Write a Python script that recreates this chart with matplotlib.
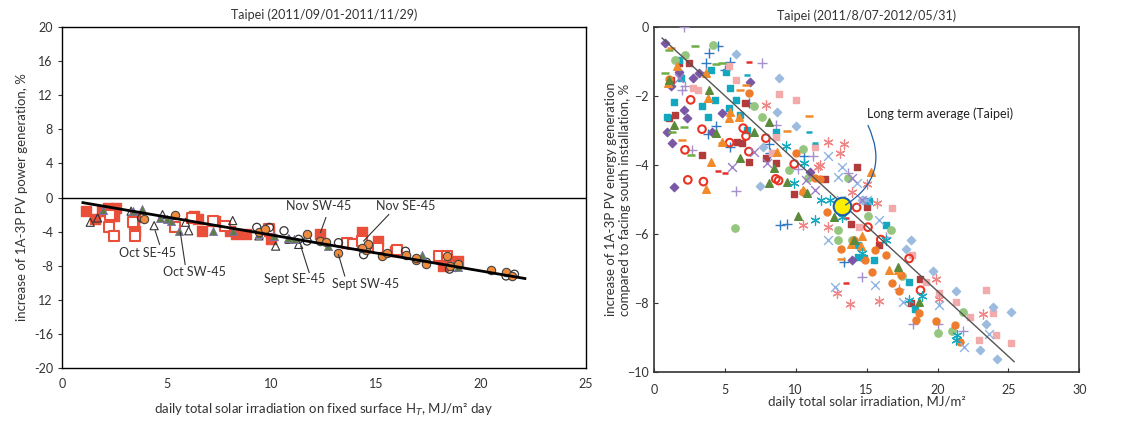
import numpy as np
import matplotlib.pyplot as plt

plt.rcParams['font.family'] = ['Lato', 'DejaVu Sans']
plt.rcParams['font.size'] = 8

# ---------------- left panel data (Taipei 2011/09/01-2011/11/29)
nov_sw_x = [1.17, 2.57, 2.5, 1.6, 3.44, 3.5, 3.5, 6.3, 6.5, 6.7, 7.3, 8.0, 8.3, 8.8, 9.9, 10.0, 12.3, 13.6, 14.3, 15.1, 15.9, 18.2, 18.9, 18.1, 1.9, 2.2]
nov_sw_y = [-1.57, -1.18, -2.2, -2.5, -3.1, -3.9, -2.3, -2.2, -2.5, -3.9, -2.7, -3.9, -4.3, -4.3, -3.9, -4.9, -4.3, -5.3, -4.1, -5.1, -6.3, -8.0, -7.5, -6.9, -1.6, -1.2]
nov_se_x = [2.3, 2.25, 2.5, 3.4, 3.5, 5.4, 6.2, 7.8, 9.9, 13.6, 13.9, 14.3, 15.1, 16.0, 18.0, 18.4, 7.2]
nov_se_y = [-2.0, -3.5, -4.5, -2.9, -4.5, -3.5, -2.4, -3.3, -3.7, -5.3, -5.5, -5.1, -5.9, -6.1, -6.9, -6.9, -2.7]
sept_sw_x = [3.9, 5.4, 9.4, 11.7, 12.3, 12.6, 13.2, 14.5, 14.6, 15.3, 15.5, 16.4, 16.9, 17.4, 18.4, 18.5, 18.9, 20.5, 21.2, 21.5, 9.7, 14.3, 16.9]
sept_sw_y = [-2.5, -2.0, -4.1, -4.3, -5.1, -5.2, -6.5, -6.1, -5.5, -6.9, -6.5, -6.7, -7.3, -7.8, -6.9, -8.0, -7.8, -8.5, -8.7, -9.2, -3.7, -5.9, -7.1]
sept_se_x = [9.3, 9.9, 10.6, 11.7, 13.2, 14.4, 14.6, 16.4, 17.4, 18.5, 18.8, 21.2, 21.6, 11.3, 3.8]
sept_se_y = [-3.5, -3.5, -3.9, -5.1, -5.3, -6.7, -5.7, -6.3, -7.6, -8.4, -8.2, -9.2, -9.0, -4.9, -2.4]
oct_sw_x = [1.95, 3.8, 4.7, 5.0, 5.6, 7.2, 8.15, 9.4, 10.8, 12.7, 17.2, 18.9, 3.4, 10.1, 11.1, 5.2]
oct_sw_y = [-1.5, -1.4, -2.4, -2.5, -3.9, -3.9, -3.9, -4.3, -4.7, -5.7, -6.7, -8.2, -1.6, -4.5, -4.9, -2.7]
oct_se_x = [1.35, 3.3, 4.4, 4.8, 6.05, 8.15, 10.2, 10.85, 11.3, 5.9, 9.4, 1.7]
oct_se_y = [-2.9, -1.6, -3.3, -2.0, -3.9, -2.7, -5.7, -4.9, -5.5, -2.9, -4.5, -2.4]
fit_left_x = [1.0, 22.1]
fit_left_y = [-0.6, -9.5]
left_yticks = [-20, -16, -12, -8, -4, 0, 4, 8, 12, 16, 20]
left_yticklabels = ['-20', '-16', '12', '-8', '-4', '0', '4', '8', '12', '16', '20']

# ---------------- right panel data (Taipei 2011/8/07-2012/05/31)
right_series = {
    'plus_blue': ([3.9, 4.5, 5.4, 5.0, 3.65, 3.8, 4.4, 5.4, 8.9, 9.4, 13.4, 10.6, 6.7, 8.1, 8.2],
                  [-0.75, -0.54, -1.0, -1.24, -1.05, -3.1, -2.87, -3.47, -5.74, -5.7, -6.8, -3.75, -2.2, -3.4, -3.65]),
    'plus_purple': ([2.1, 7.6, 3.65, 2.2, 2.7, 5.8, 8.6, 10.2, 11.2, 13.7, 18.3, 20.0, 21.8, 14.7, 17.3, 16.4, 2.0],
                    [0.0, -1.05, -1.3, -1.72, -3.56, -4.74, -2.84, -4.12, -3.75, -4.24, -8.6, -8.6, -8.8, -7.24, -7.6, -6.1, -1.82]),
    'sq_darkred': ([1.06, 1.5, 1.77, 3.4, 6.4, 6.2, 6.7, 7.9, 8.6, 9.9, 12.1, 14.3, 15.0, 13.9, 15.9, 18.8, 18.1, 1.2, 2.5, 5.9],
                   [-2.64, -2.55, -1.05, -3.7, -2.2, -3.37, -3.92, -3.8, -3.95, -4.84, -4.41, -4.05, -5.23, -5.7, -6.32, -7.3, -8.0, -1.53, -1.05, -3.32]),
    'sq_teal': ([0.94, 1.4, 1.9, 3.4, 3.8, 4.3, 5.35, 5.8, 6.1, 6.6, 8.6, 5.3, 15.2, 16.4, 14.4, 14.4, 14.8, 15.5, 18.0, 18.4, 5.1, 4.0, 1.77],
                [-2.6, -2.16, -1.48, -2.3, -2.6, -2.1, -1.77, -2.1, -2.55, -2.98, -3.03, -2.35, -5.04, -5.74, -6.32, -6.66, -6.7, -6.76, -7.39, -8.16, -1.29, -1.24, -0.95]),
    'sq_pink': ([5.8, 8.8, 10.0, 2.8, 3.1, 5.3, 8.6, 8.3, 11.4, 16.8, 14.5, 18.2, 19.2, 20.1, 21.3, 23.4, 23.9, 22.9, 24.1, 25.2, 22.3],
                [-1.53, -1.95, -2.11, -1.77, -1.82, -1.12, -3.18, -3.66, -3.47, -5.26, -5.8, -6.6, -7.39, -7.72, -7.97, -7.63, -8.3, -9.06, -8.94, -9.16, -8.4]),
    'ci_green': ([4.2, 1.5, 2.2, 7.1, 7.6, 10.5, 9.5, 10.9, 13.7, 5.7, 13.0, 13.0, 14.0, 15.1, 16.7, 17.5, 20.0, 21.0, 21.8],
                 [-0.51, -0.95, -0.8, -2.28, -2.6, -3.53, -4.14, -4.39, -4.37, -5.83, -5.87, -6.16, -6.16, -5.48, -5.87, -7.22, -8.86, -8.8, -8.26]),
    'ci_orange': ([10.0, 11.4, 11.7, 12.2, 13.2, 15.4, 15.6, 16.4, 17.4, 16.8, 17.3, 18.5, 18.7, 19.9, 21.2, 21.6, 14.9, 10.5, 6.7, 1.06, 14.1],
                  [-3.66, -4.39, -4.4, -5.35, -6.42, -7.1, -6.45, -6.61, -7.19, -7.43, -7.66, -8.5, -8.3, -8.53, -8.64, -9.13, -6.74, -4.77, -1.92, -1.51, -6.18]),
    'ci_red_open': ([2.2, 2.4, 2.6, 3.4, 3.5, 5.35, 6.3, 6.5, 6.7, 7.9, 8.6, 8.8, 9.9, 14.3, 15.1, 16.0, 18.0, 18.8],
                    [-3.56, -4.43, -2.11, -2.96, -4.48, -3.35, -2.93, -3.16, -3.61, -3.22, -4.4, -4.45, -3.97, -5.23, -5.8, -6.16, -6.71, -7.63]),
    'di_purple': ([0.94, 1.3, 1.4, 2.35, 2.1, 0.82, 1.77, 2.8, 4.1, 4.8, 11.0, 14.0, 6.8, 1.2, 3.2],
                  [-3.03, -3.37, -4.63, -2.64, -2.4, -0.47, -1.29, -1.48, -3.03, -2.5, -4.19, -6.74, -1.58, -1.72, -1.34]),
    'di_lightblue': ([5.8, 8.8, 8.7, 10.0, 7.5, 14.7, 18.1, 19.7, 21.3, 23.9, 23.4, 23.0, 24.2, 25.2, 17.8, 7.7],
                     [-0.78, -1.48, -2.45, -2.86, -4.6, -5.01, -6.16, -7.07, -7.65, -8.11, -8.6, -9.37, -9.61, -8.26, -6.42, -3.47]),
    'tr_orange': ([1.0, 1.65, 3.8, 4.0, 3.7, 4.8, 5.3, 5.4, 6.0, 8.7, 10.5, 15.3, 13.9, 14.6, 16.6, 17.2, 14.7, 3.65],
                  [-1.63, -1.14, -2.06, -3.9, -4.7, -3.32, -2.64, -2.45, -2.6, -3.61, -4.72, -4.19, -6.29, -6.35, -7.03, -7.03, -6.06, -1.34]),
    'tr_green': ([1.4, 1.06, 3.9, 4.4, 7.1, 8.1, 6.05, 8.1, 8.5, 9.4, 10.2, 10.8, 12.7, 14.1, 17.2, 18.7],
                 [-2.84, -1.53, -1.82, -3.08, -3.03, -2.74, -3.8, -4.51, -4.1, -4.48, -5.48, -4.82, -5.5, -6.16, -6.95, -7.97]),
    'dash_green': ([1.06, 2.9, 0.82, 1.3, 2.1, 2.6, 4.4, 4.8],
                   [-0.66, -0.56, -1.34, -3.03, -2.9, -3.7, -1.06, -1.05]),
    'dash_orange': ([1.2, 2.0, 4.8, 6.5, 6.1, 10.95, 9.4, 13.2],
                    [-0.61, -3.27, -3.35, -1.67, -1.82, -2.57, -3.0, -6.71]),
    'dash_red': ([6.7, 4.5, 5.0, 13.55, 13.55],
                 [-1.0, -4.16, -4.22, -7.42, -5.55]),
    'dash_teal': ([6.6, 10.95, 11.4, 8.6],
                  [-1.38, -3.03, -3.37, -3.03]),
    'ast_pink': ([7.9, 11.7, 12.3, 13.1, 13.4, 10.5, 12.3, 12.9, 13.8, 15.9, 15.0, 15.7, 19.9, 20.1, 23.2, 11.55, 14.0],
                 [-2.26, -4.0, -3.32, -3.66, -3.39, -5.74, -5.81, -7.71, -8.02, -7.95, -4.56, -5.11, -7.29, -7.87, -8.31, -4.05, -4.77]),
    'ast_teal': ([11.4, 11.8, 12.4, 9.3, 9.9, 10.6, 14.7, 16.4, 18.0, 18.9, 21.3, 21.4, 13.3],
                 [-5.6, -5.01, -5.01, -3.44, -4.53, -3.93, -6.54, -6.18, -7.92, -7.8, -9.08, -8.94, -5.5]),
    'x_lightblue': ([12.3, 13.3, 13.0, 12.3, 12.8, 15.6, 17.55, 20.1, 21.9, 23.6, 14.3, 15.9, 15.0, 13.2],
                    [-3.74, -4.05, -4.34, -6.16, -7.53, -7.48, -7.97, -8.06, -9.27, -8.89, -4.51, -5.6, -5.01, -5.0]),
    'x_purple': ([5.5, 7.1, 10.7, 11.4, 8.0, 14.0, 14.7, 1.77],
                 [-4.05, -3.61, -4.43, -4.72, -3.95, -4.39, -5.01, -1.48]),
}
fit_right_x = [0.59, 25.4]
fit_right_y = [-0.32, -9.7]
avg_x, avg_y = 13.3, -5.2

styles = {
    'plus_blue': dict(marker='+', color='#2f78c4', s=44, linewidths=1.0),
    'plus_purple': dict(marker='+', color='#a58fce', s=44, linewidths=1.0),
    'sq_darkred': dict(marker='s', color='#b23b3b', s=25),
    'sq_teal': dict(marker='s', color='#14a8c0', s=25),
    'sq_pink': dict(marker='s', color='#f2aaaa', s=25),
    'ci_green': dict(marker='o', color='#95c67f', s=28),
    'ci_orange': dict(marker='o', color='#ef7c2c', s=25),
    'ci_red_open': dict(marker='o', facecolors='none', edgecolors='#ea3323', s=30, linewidths=1.5),
    'di_purple': dict(marker='D', color='#7b58a6', s=18),
    'di_lightblue': dict(marker='D', color='#9dbbdf', s=18),
    'tr_orange': dict(marker='^', color='#f08a2a', s=30),
    'tr_green': dict(marker='^', color='#5a8a3a', s=30),
    'dash_green': dict(marker='_', color='#70ad47', s=40, linewidths=1.8),
    'dash_orange': dict(marker='_', color='#f08a2a', s=40, linewidths=1.8),
    'dash_red': dict(marker='_', color='#e8302a', s=14, linewidths=1.8),
    'dash_teal': dict(marker='_', color='#17a9c0', s=14, linewidths=1.8),
    'ast_pink': dict(marker=(6, 2, 0), color='#f08585', s=44, linewidths=0.9),
    'ast_teal': dict(marker=(6, 2, 0), color='#17a9c0', s=44, linewidths=0.9),
    'x_lightblue': dict(marker='x', color='#8db4e2', s=40, linewidths=1.0),
    'x_purple': dict(marker='x', color='#9b7fc8', s=40, linewidths=1.0),
}

fig = plt.figure(figsize=(11.35, 4.23), dpi=100)

# ---------------- left panel
ax1 = fig.add_axes([0.0546, 0.130, 0.4614, 0.806])
ax1.axhline(0, color='black', lw=1)
ax1.scatter(nov_sw_x, nov_sw_y, marker='s', color='#ea4f3a', s=44, zorder=3)
ax1.scatter(nov_se_x, nov_se_y, marker='s', facecolors='white', edgecolors='#ea4f3a', s=44, linewidths=1.5, zorder=3)
ax1.scatter(sept_se_x, sept_se_y, marker='o', facecolors='none', edgecolors='#333333', s=34, linewidths=0.9, zorder=3)
ax1.scatter(oct_se_x, oct_se_y, marker='^', facecolors='none', edgecolors='#333333', s=34, linewidths=0.8, zorder=3)
ax1.scatter(oct_sw_x, oct_sw_y, marker='^', color='#5e7d45', edgecolors='#8070b0', s=34, linewidths=0.6, zorder=3)
ax1.scatter(sept_sw_x, sept_sw_y, marker='o', color='#f08a3c', edgecolors='#444444', s=36, linewidths=0.8, zorder=3)
ax1.plot(fit_left_x, fit_left_y, color='black', lw=2, zorder=4)

notes = [("Oct SE-45", (4.1, -6.55), (4.66, -5.5), (4.45, -3.9)),
         ("Oct SW-45", (6.3, -8.75), (5.88, -7.85), (5.65, -4.1)),
         ("Sept SE-45", (11.1, -9.5), (11.8, -8.8), (11.4, -5.7)),
         ("Sept SW-45", (14.5, -10.1), (13.5, -9.2), (13.2, -6.7)),
         ("Nov SW-45", (12.25, -1.0), (12.6, -2.35), (12.34, -4.1)),
         ("Nov SE-45", (16.4, -1.0), (15.6, -2.0), (14.4, -5.1))]
for txt, tpos, p0, p1 in notes:
    ax1.text(tpos[0], tpos[1], txt, ha='center', va='center', fontsize=9, color='#333333', zorder=5)
    ax1.plot([p0[0], p1[0]], [p0[1], p1[1]], color='#333333', lw=0.8, zorder=5)

ax1.set_xlim(0, 25)
ax1.set_ylim(-20, 20)
ax1.set_yticks(left_yticks)
ax1.set_yticklabels(left_yticklabels)
ax1.set_xticks([0, 5, 10, 15, 20, 25])
ax1.tick_params(axis='x', length=0, pad=7, labelsize=9, colors='#333333')
ax1.tick_params(axis='y', length=3, labelsize=9, colors='#333333', direction='out')
ax1.set_xlabel("daily total solar irradiation on fixed surface H$_T$, MJ/m² day", fontsize=9.5, color='#333333', labelpad=9)
ax1.set_ylabel("increase of 1A-3P PV power generation, %", fontsize=9.5, color='#333333', labelpad=4)
ax1.set_title("Taipei (2011/09/01-2011/11/29)", fontsize=9, color='#333333', pad=6)
for sp in ax1.spines.values():
    sp.set_color('black')
    sp.set_linewidth(1)

# ---------------- right panel
ax2 = fig.add_axes([0.576, 0.1206, 0.375, 0.8154])
for name, (xs, ys) in right_series.items():
    ax2.scatter(xs, ys, zorder=3, **styles[name])
ax2.plot(fit_right_x, fit_right_y, color='#555555', lw=1.0, zorder=4)
ax2.scatter([avg_x], [avg_y], s=160, color='#ffee00', edgecolors='#1f5fa8', linewidths=1.5, zorder=6)
ax2.text(15.0, -2.5, "Long term average (Taipei)", fontsize=9, color='#222222', ha='left', va='center', zorder=7)
ax2.annotate("", xy=(avg_x + 0.05, avg_y), xytext=(15.1, -2.85), zorder=7,
             arrowprops=dict(arrowstyle='-', color='#1f5fa8', lw=0.9, shrinkA=0, shrinkB=2,
                             connectionstyle="arc3,rad=-0.45"))
ax2.set_xlim(0, 30)
ax2.set_ylim(-10, 0)
ax2.set_xticks([0, 5, 10, 15, 20, 25, 30])
ax2.set_yticks([-10, -8, -6, -4, -2, 0])
ax2.tick_params(direction='in', length=3, labelsize=9, colors='#333333')
ax2.tick_params(axis='x', pad=9)
ax2.set_xlabel("daily total solar irradiation, MJ/m²", fontsize=9.5, color='#333333', labelpad=0)
ax2.set_ylabel("increase of 1A-3P PV energy generation\ncompared to facing south installation, %", fontsize=9.5, color='#333333', labelpad=-3)
ax2.set_title("Taipei (2011/8/07-2012/05/31)", fontsize=9, color='#333333', pad=5)
for sp in ax2.spines.values():
    sp.set_color('#333333')
    sp.set_linewidth(1.2)

fig.savefig("out.png", dpi=100)
